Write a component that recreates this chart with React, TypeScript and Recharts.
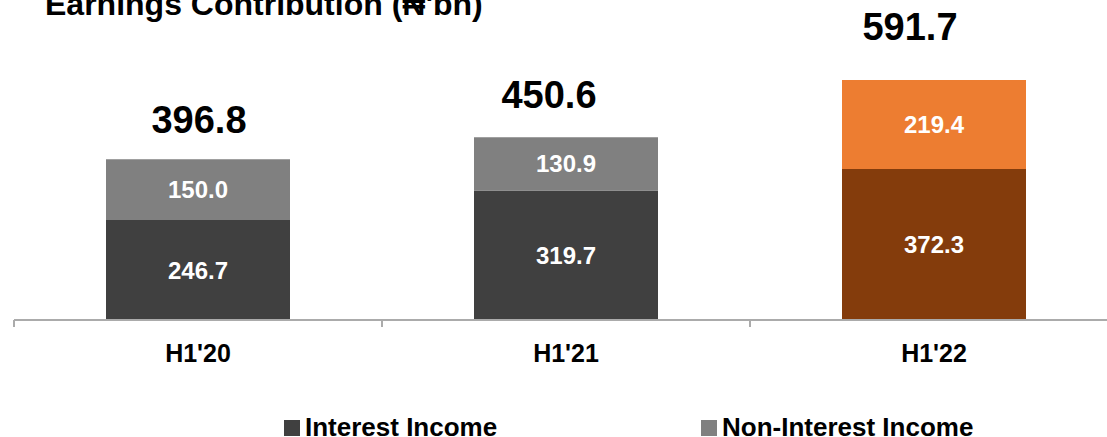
import { BarChart, Bar, XAxis, YAxis, Cell, LabelList, Legend } from 'recharts'

const periods = ["H1'20", "H1'21", "H1'22"]
const interestIncome = [246.7, 319.7, 372.3]
const nonInterestIncome = [150.0, 130.9, 219.4]
const totals = [396.8, 450.6, 591.7]

const title = "Earnings Contribution (₦'bn)"
const seriesNames = ['Interest Income', 'Non-Interest Income']

const FONT = '"Liberation Sans", Arial, sans-serif'
const GREY_DARK = '#404040'
const GREY = '#808080'
const BROWN = '#843C0C'
const ORANGE = '#ED7D31'
const AXIS = '#ABABAB'

// total labels were nudged by hand in the source slide
const totalGap = [26, 29, 40]
const totalDx = [1, -17, -24]

const data = periods.map((p, i) => ({
  period: p,
  interest: interestIncome[i],
  nonInterest: nonInterestIncome[i],
}))

const fmt = (v: number) => v.toFixed(1)

function CategoryTick(props: any) {
  const { x, y, payload, index } = props
  const half = payload?.offset ?? 184
  return (
    <g>
      <line x1={x - half} x2={x - half} y1={y} y2={y + 7} stroke={AXIS} strokeWidth={2} />
      {index === periods.length - 1 && (
        <line x1={x + half} x2={x + half} y1={y} y2={y + 7} stroke={AXIS} strokeWidth={2} />
      )}
      <text x={x} y={y + 42} textAnchor="middle" fontFamily={FONT} fontWeight="bold" fontSize={25} fill="#000">
        {payload.value}
      </text>
    </g>
  )
}

function TotalLabel(props: any) {
  const { x, y, width, index } = props
  return (
    <text
      x={x + width / 2 + totalDx[index]}
      y={y - totalGap[index]}
      textAnchor="middle"
      fontFamily={FONT}
      fontWeight="bold"
      fontSize={38}
      fill="#000"
    >
      {fmt(totals[index])}
    </text>
  )
}

function LegendBox() {
  return (
    <svg width={1118} height={30} style={{ display: 'block' }}>
      <rect x={284} y={13} width={16} height={16} fill={GREY_DARK} />
      <text x={305} y={29} fontFamily={FONT} fontWeight="bold" fontSize={26} fill="#000">
        {seriesNames[0]}
      </text>
      <rect x={701} y={13} width={16} height={16} fill={GREY} />
      <text x={722} y={29} fontFamily={FONT} fontWeight="bold" fontSize={26} fill="#000">
        {seriesNames[1]}
      </text>
    </svg>
  )
}

export default function App() {
  return (
    <div style={{ position: 'absolute', left: 0, top: 0, width: 1107, height: 437, overflow: 'hidden', background: '#fff' }}>
      <svg width={1107} height={40} style={{ position: 'absolute', left: 0, top: 0 }}>
        <text x={45} y={15} fontFamily={FONT} fontWeight="bold" fontSize={32} fill="#000">
          {title}
        </text>
      </svg>
      <div style={{ position: 'absolute', left: 0, top: 0 }}>
        <BarChart width={1118} height={437} data={data} margin={{ top: 20, right: 0, bottom: 0, left: 14 }} barCategoryGap="25%">
          <YAxis hide domain={[0, 740]} />
          <XAxis
            dataKey="period"
            axisLine={{ stroke: AXIS, strokeWidth: 2 }}
            tickLine={false}
            tickSize={0}
            tickMargin={0}
            height={87}
            interval={0}
            tick={<CategoryTick />}
          />
          <Legend
            verticalAlign="bottom"
            align="left"
            wrapperStyle={{ left: 0, width: 1118, height: 30 }}
            content={() => <LegendBox />}
          />
          <Bar dataKey="interest" name={seriesNames[0]} stackId="a" fill={GREY_DARK} isAnimationActive={false}>
            {data.map((_, i) => (
              <Cell key={i} fill={i === 2 ? BROWN : GREY_DARK} />
            ))}
            <LabelList dataKey="interest" position="center" formatter={(v: any) => fmt(Number(v))} fill="#fff" fontFamily={FONT} fontWeight="bold" fontSize={24} />
          </Bar>
          <Bar dataKey="nonInterest" name={seriesNames[1]} stackId="a" fill={GREY} isAnimationActive={false}>
            {data.map((_, i) => (
              <Cell key={i} fill={i === 2 ? ORANGE : GREY} />
            ))}
            <LabelList dataKey="nonInterest" position="center" formatter={(v: any) => fmt(Number(v))} fill="#fff" fontFamily={FONT} fontWeight="bold" fontSize={24} />
            <LabelList dataKey="nonInterest" content={<TotalLabel />} />
          </Bar>
        </BarChart>
      </div>
    </div>
  )
}
